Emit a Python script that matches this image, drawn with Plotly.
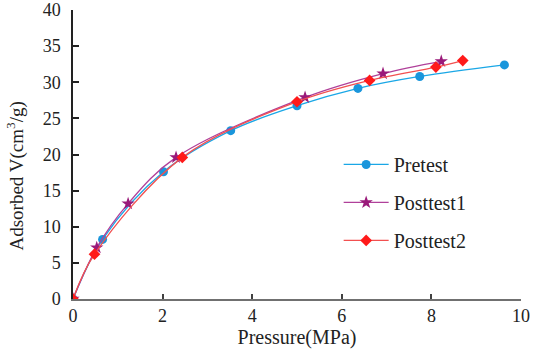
import plotly.graph_objects as go

pre_x = [0, 0.66, 2.02, 3.52, 5.0, 6.36, 7.74, 9.63]
pre_y = [0, 8.25, 17.6, 23.3, 26.75, 29.15, 30.8, 32.4]

p1_x = [0, 0.53, 1.23, 2.30, 5.18, 6.92, 8.22]
p1_y = [0, 7.1, 13.2, 19.6, 27.9, 31.2, 32.9]

p2_x = [0, 0.48, 2.44, 5.0, 6.62, 8.1, 8.7]
p2_y = [0, 6.2, 19.6, 27.3, 30.25, 32.1, 33.0]

x_ticks = [0, 2, 4, 6, 8, 10]
y_ticks = [0, 5, 10, 15, 20, 25, 30, 35, 40]

font = "'Liberation Serif', 'Times New Roman', Times, serif"

fig = go.Figure()
fig.add_trace(go.Scatter(
    x=pre_x, y=pre_y, name="Pretest", mode="lines+markers",
    line=dict(color="#1aa7e6", width=1.3, shape="spline", smoothing=1),
    marker=dict(symbol="circle", size=9, color="#1a96dc"),
    legendgroup="a"))
fig.add_trace(go.Scatter(
    x=p1_x, y=p1_y, name="Posttest1", mode="lines+markers",
    line=dict(color="#b0409a", width=1.3, shape="spline", smoothing=1),
    marker=dict(symbol="star", size=10, color="#9a1a7a"),
    legendgroup="b"))
fig.add_trace(go.Scatter(
    x=p2_x, y=p2_y, name="Posttest2", mode="lines+markers",
    line=dict(color="#f25050", width=1.3, shape="spline", smoothing=1),
    marker=dict(symbol="diamond", size=9, color="#ff1a1a"),
    legendgroup="c"))

fig.update_layout(
    width=533, height=359,
    margin=dict(l=73, r=12, t=10, b=60),
    paper_bgcolor="white", plot_bgcolor="white",
    font=dict(family=font, size=18, color="#222"),
    legend=dict(x=0.593, y=0.533, xanchor="left", yanchor="top",
                font=dict(family=font, size=20, color="#222"),
                traceorder="grouped", tracegroupgap=9, itemwidth=45,
                bgcolor="rgba(0,0,0,0)"),
    showlegend=True,
    annotations=[dict(
        text="Adsorbed V(cm<sup>3</sup>/g)", textangle=-90,
        xref="paper", yref="paper", x=-0.128, y=0.426,
        xanchor="center", yanchor="middle", showarrow=False,
        font=dict(family=font, size=19, color="#222"))],
)
fig.update_xaxes(
    range=[0, 10], tickvals=x_ticks, ticktext=[str(v) for v in x_ticks],
    showline=True, linecolor="#707070", linewidth=1.5,
    ticks="inside", ticklen=5, tickcolor="#404040", tickwidth=1.5,
    showgrid=False, zeroline=False, ticklabeloverflow="allow", automargin=False,
    tickfont=dict(family=font, size=18),
    title=dict(text="Pressure(MPa)", font=dict(family=font, size=20), standoff=2),
)
fig.update_yaxes(
    range=[0, 40], tickvals=y_ticks, ticktext=[str(v) for v in y_ticks],
    showline=True, linecolor="#222", linewidth=1.5,
    ticks="inside", ticklen=6, tickcolor="#222", tickwidth=1.5,
    showgrid=False, zeroline=False, ticklabelstandoff=7, ticklabeloverflow="allow",
    automargin=False,
    tickfont=dict(family=font, size=18),
)

fig.write_html("out.html", config={"displayModeBar": False},
               post_script="document.body.style.margin='0';document.body.style.overflow='hidden';")
